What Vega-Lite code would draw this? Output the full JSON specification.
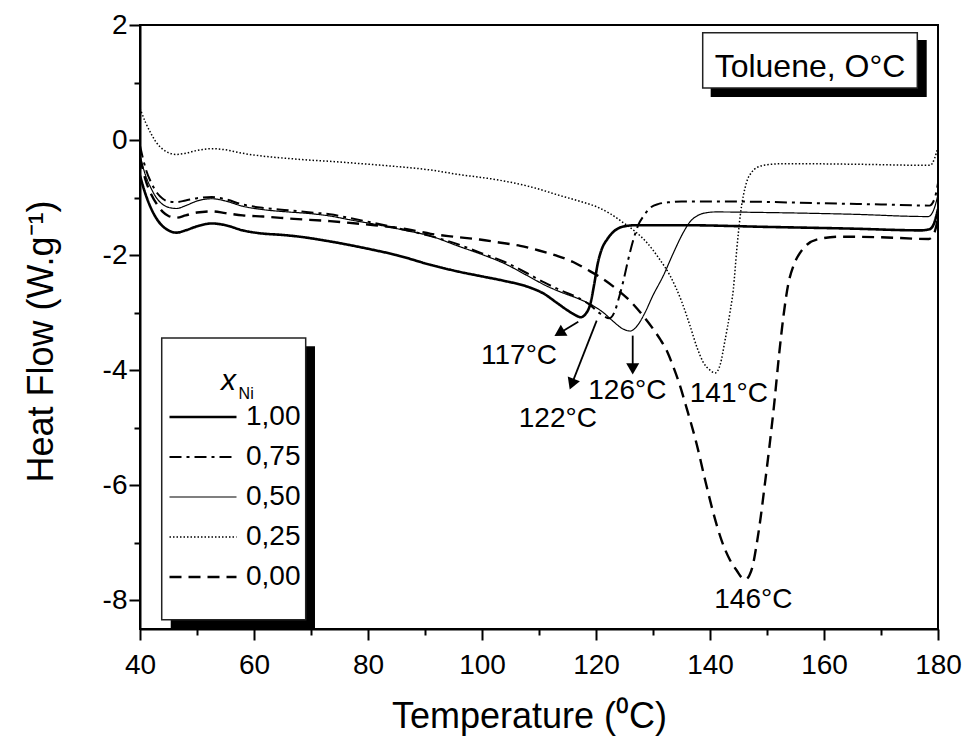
{
  "$schema": "https://vega.github.io/schema/vega-lite/v6.json",
  "width": 798,
  "height": 604,
  "autosize": {"type": "none"},
  "padding": {"left": 140, "top": 25, "right": 27, "bottom": 118},
  "background": "white",
  "config": {
    "font": "Liberation Sans",
    "view": {"stroke": "black", "strokeWidth": 2},
    "axis": {
      "domainColor": "black", "domainWidth": 2, "tickColor": "black", "tickWidth": 2,
      "labelColor": "black", "titleColor": "black", "labelFont": "Liberation Sans", "titleFont": "Liberation Sans",
      "labelFontSize": 28, "titleFontSize": 36, "titleFontWeight": "normal", "grid": false, "labelOverlap": false
    }
  },
  "datasets": {
    "curves": [
      {"xNi": "1,00", "T": 40, "HF": -0.62}, {"xNi": "1,00", "T": 41, "HF": -0.95}, {"xNi": "1,00", "T": 42, "HF": -1.2}, {"xNi": "1,00", "T": 43, "HF": -1.38}, {"xNi": "1,00", "T": 44, "HF": -1.5}, {"xNi": "1,00", "T": 45, "HF": -1.57}, {"xNi": "1,00", "T": 46.4, "HF": -1.61}, {"xNi": "1,00", "T": 48, "HF": -1.57}, {"xNi": "1,00", "T": 50, "HF": -1.5}, {"xNi": "1,00", "T": 52.6, "HF": -1.45}, {"xNi": "1,00", "T": 55, "HF": -1.48}, {"xNi": "1,00", "T": 58, "HF": -1.57}, {"xNi": "1,00", "T": 61, "HF": -1.62}, {"xNi": "1,00", "T": 65, "HF": -1.65}, {"xNi": "1,00", "T": 68, "HF": -1.68}, {"xNi": "1,00", "T": 72, "HF": -1.74}, {"xNi": "1,00", "T": 76, "HF": -1.81}, {"xNi": "1,00", "T": 80, "HF": -1.89}, {"xNi": "1,00", "T": 85, "HF": -2.0}, {"xNi": "1,00", "T": 91, "HF": -2.17}, {"xNi": "1,00", "T": 96, "HF": -2.29}, {"xNi": "1,00", "T": 100, "HF": -2.37}, {"xNi": "1,00", "T": 104, "HF": -2.45}, {"xNi": "1,00", "T": 108, "HF": -2.55}, {"xNi": "1,00", "T": 111, "HF": -2.68}, {"xNi": "1,00", "T": 113, "HF": -2.82}, {"xNi": "1,00", "T": 115, "HF": -2.96}, {"xNi": "1,00", "T": 116.5, "HF": -3.05}, {"xNi": "1,00", "T": 117.3, "HF": -3.08}, {"xNi": "1,00", "T": 118.2, "HF": -3.02}, {"xNi": "1,00", "T": 119, "HF": -2.85}, {"xNi": "1,00", "T": 119.7, "HF": -2.5}, {"xNi": "1,00", "T": 120.3, "HF": -2.15}, {"xNi": "1,00", "T": 121, "HF": -1.9}, {"xNi": "1,00", "T": 122, "HF": -1.72}, {"xNi": "1,00", "T": 123, "HF": -1.6}, {"xNi": "1,00", "T": 124, "HF": -1.53}, {"xNi": "1,00", "T": 125, "HF": -1.5}, {"xNi": "1,00", "T": 127, "HF": -1.48}, {"xNi": "1,00", "T": 135, "HF": -1.48}, {"xNi": "1,00", "T": 150, "HF": -1.51}, {"xNi": "1,00", "T": 165, "HF": -1.54}, {"xNi": "1,00", "T": 177, "HF": -1.57}, {"xNi": "1,00", "T": 178.5, "HF": -1.55}, {"xNi": "1,00", "T": 179.3, "HF": -1.45}, {"xNi": "1,00", "T": 180, "HF": -1.2},

      {"xNi": "0,75", "T": 40, "HF": -0.1}, {"xNi": "0,75", "T": 41, "HF": -0.5}, {"xNi": "0,75", "T": 42, "HF": -0.75}, {"xNi": "0,75", "T": 43, "HF": -0.92}, {"xNi": "0,75", "T": 44, "HF": -1.02}, {"xNi": "0,75", "T": 45, "HF": -1.07}, {"xNi": "0,75", "T": 46.4, "HF": -1.08}, {"xNi": "0,75", "T": 48, "HF": -1.05}, {"xNi": "0,75", "T": 50, "HF": -1.01}, {"xNi": "0,75", "T": 52.6, "HF": -0.99}, {"xNi": "0,75", "T": 55, "HF": -1.03}, {"xNi": "0,75", "T": 58, "HF": -1.12}, {"xNi": "0,75", "T": 61.6, "HF": -1.18}, {"xNi": "0,75", "T": 66, "HF": -1.22}, {"xNi": "0,75", "T": 70, "HF": -1.26}, {"xNi": "0,75", "T": 73.3, "HF": -1.29}, {"xNi": "0,75", "T": 77, "HF": -1.36}, {"xNi": "0,75", "T": 81, "HF": -1.44}, {"xNi": "0,75", "T": 86, "HF": -1.55}, {"xNi": "0,75", "T": 91, "HF": -1.67}, {"xNi": "0,75", "T": 96, "HF": -1.82}, {"xNi": "0,75", "T": 100, "HF": -1.97}, {"xNi": "0,75", "T": 104, "HF": -2.12}, {"xNi": "0,75", "T": 108, "HF": -2.32}, {"xNi": "0,75", "T": 111, "HF": -2.48}, {"xNi": "0,75", "T": 114, "HF": -2.62}, {"xNi": "0,75", "T": 117, "HF": -2.75}, {"xNi": "0,75", "T": 119, "HF": -2.87}, {"xNi": "0,75", "T": 120.5, "HF": -3.0}, {"xNi": "0,75", "T": 121.5, "HF": -3.07}, {"xNi": "0,75", "T": 122.3, "HF": -3.1}, {"xNi": "0,75", "T": 123.2, "HF": -3.0}, {"xNi": "0,75", "T": 124, "HF": -2.75}, {"xNi": "0,75", "T": 124.8, "HF": -2.45}, {"xNi": "0,75", "T": 125.6, "HF": -2.1}, {"xNi": "0,75", "T": 126.5, "HF": -1.75}, {"xNi": "0,75", "T": 127.4, "HF": -1.48}, {"xNi": "0,75", "T": 128.5, "HF": -1.3}, {"xNi": "0,75", "T": 129.5, "HF": -1.18}, {"xNi": "0,75", "T": 131, "HF": -1.11}, {"xNi": "0,75", "T": 133, "HF": -1.08}, {"xNi": "0,75", "T": 135, "HF": -1.07}, {"xNi": "0,75", "T": 145, "HF": -1.07}, {"xNi": "0,75", "T": 160, "HF": -1.1}, {"xNi": "0,75", "T": 170, "HF": -1.12}, {"xNi": "0,75", "T": 178.5, "HF": -1.14}, {"xNi": "0,75", "T": 179.4, "HF": -1.02}, {"xNi": "0,75", "T": 180, "HF": -0.75},

      {"xNi": "0,50", "T": 40, "HF": -0.28}, {"xNi": "0,50", "T": 41, "HF": -0.62}, {"xNi": "0,50", "T": 42, "HF": -0.85}, {"xNi": "0,50", "T": 43, "HF": -1.02}, {"xNi": "0,50", "T": 44, "HF": -1.12}, {"xNi": "0,50", "T": 45, "HF": -1.17}, {"xNi": "0,50", "T": 46.4, "HF": -1.19}, {"xNi": "0,50", "T": 48, "HF": -1.14}, {"xNi": "0,50", "T": 50, "HF": -1.06}, {"xNi": "0,50", "T": 52.6, "HF": -1.02}, {"xNi": "0,50", "T": 55, "HF": -1.06}, {"xNi": "0,50", "T": 58, "HF": -1.15}, {"xNi": "0,50", "T": 61.6, "HF": -1.21}, {"xNi": "0,50", "T": 66, "HF": -1.25}, {"xNi": "0,50", "T": 70, "HF": -1.28}, {"xNi": "0,50", "T": 73.3, "HF": -1.32}, {"xNi": "0,50", "T": 77, "HF": -1.39}, {"xNi": "0,50", "T": 81, "HF": -1.46}, {"xNi": "0,50", "T": 86, "HF": -1.56}, {"xNi": "0,50", "T": 91, "HF": -1.67}, {"xNi": "0,50", "T": 96, "HF": -1.85}, {"xNi": "0,50", "T": 100, "HF": -1.99}, {"xNi": "0,50", "T": 104, "HF": -2.15}, {"xNi": "0,50", "T": 108, "HF": -2.36}, {"xNi": "0,50", "T": 111.4, "HF": -2.54}, {"xNi": "0,50", "T": 114, "HF": -2.65}, {"xNi": "0,50", "T": 117.2, "HF": -2.77}, {"xNi": "0,50", "T": 119.5, "HF": -2.88}, {"xNi": "0,50", "T": 121.3, "HF": -3.0}, {"xNi": "0,50", "T": 123, "HF": -3.15}, {"xNi": "0,50", "T": 124.5, "HF": -3.27}, {"xNi": "0,50", "T": 126, "HF": -3.32}, {"xNi": "0,50", "T": 127.3, "HF": -3.22}, {"xNi": "0,50", "T": 128.5, "HF": -3.02}, {"xNi": "0,50", "T": 130, "HF": -2.7}, {"xNi": "0,50", "T": 131.8, "HF": -2.36}, {"xNi": "0,50", "T": 133.5, "HF": -1.98}, {"xNi": "0,50", "T": 135.3, "HF": -1.61}, {"xNi": "0,50", "T": 136.5, "HF": -1.42}, {"xNi": "0,50", "T": 137.7, "HF": -1.32}, {"xNi": "0,50", "T": 139, "HF": -1.27}, {"xNi": "0,50", "T": 141, "HF": -1.25}, {"xNi": "0,50", "T": 150, "HF": -1.26}, {"xNi": "0,50", "T": 165, "HF": -1.29}, {"xNi": "0,50", "T": 178.3, "HF": -1.33}, {"xNi": "0,50", "T": 179.3, "HF": -1.2}, {"xNi": "0,50", "T": 180, "HF": -0.95},

      {"xNi": "0,25", "T": 40, "HF": 0.55}, {"xNi": "0,25", "T": 41, "HF": 0.3}, {"xNi": "0,25", "T": 42, "HF": 0.1}, {"xNi": "0,25", "T": 43, "HF": -0.06}, {"xNi": "0,25", "T": 44, "HF": -0.16}, {"xNi": "0,25", "T": 45, "HF": -0.22}, {"xNi": "0,25", "T": 46.4, "HF": -0.25}, {"xNi": "0,25", "T": 48, "HF": -0.23}, {"xNi": "0,25", "T": 50, "HF": -0.18}, {"xNi": "0,25", "T": 52.8, "HF": -0.15}, {"xNi": "0,25", "T": 55, "HF": -0.17}, {"xNi": "0,25", "T": 58, "HF": -0.23}, {"xNi": "0,25", "T": 61.6, "HF": -0.28}, {"xNi": "0,25", "T": 66, "HF": -0.32}, {"xNi": "0,25", "T": 70, "HF": -0.35}, {"xNi": "0,25", "T": 73.3, "HF": -0.37}, {"xNi": "0,25", "T": 80, "HF": -0.42}, {"xNi": "0,25", "T": 85, "HF": -0.46}, {"xNi": "0,25", "T": 90.9, "HF": -0.52}, {"xNi": "0,25", "T": 96, "HF": -0.6}, {"xNi": "0,25", "T": 102.6, "HF": -0.69}, {"xNi": "0,25", "T": 108, "HF": -0.8}, {"xNi": "0,25", "T": 114.2, "HF": -0.98}, {"xNi": "0,25", "T": 117, "HF": -1.06}, {"xNi": "0,25", "T": 120.1, "HF": -1.16}, {"xNi": "0,25", "T": 122.5, "HF": -1.28}, {"xNi": "0,25", "T": 124.7, "HF": -1.43}, {"xNi": "0,25", "T": 127, "HF": -1.6}, {"xNi": "0,25", "T": 128.9, "HF": -1.78}, {"xNi": "0,25", "T": 131, "HF": -2.05}, {"xNi": "0,25", "T": 133, "HF": -2.36}, {"xNi": "0,25", "T": 135, "HF": -2.8}, {"xNi": "0,25", "T": 136.5, "HF": -3.23}, {"xNi": "0,25", "T": 137.7, "HF": -3.6}, {"xNi": "0,25", "T": 138.8, "HF": -3.86}, {"xNi": "0,25", "T": 140, "HF": -4.0}, {"xNi": "0,25", "T": 140.9, "HF": -4.05}, {"xNi": "0,25", "T": 141.8, "HF": -3.9}, {"xNi": "0,25", "T": 142.6, "HF": -3.5}, {"xNi": "0,25", "T": 143.5, "HF": -3.0}, {"xNi": "0,25", "T": 144.1, "HF": -2.59}, {"xNi": "0,25", "T": 144.7, "HF": -1.9}, {"xNi": "0,25", "T": 145.3, "HF": -1.32}, {"xNi": "0,25", "T": 146.4, "HF": -0.74}, {"xNi": "0,25", "T": 147.3, "HF": -0.56}, {"xNi": "0,25", "T": 148.2, "HF": -0.48}, {"xNi": "0,25", "T": 150, "HF": -0.43}, {"xNi": "0,25", "T": 152.9, "HF": -0.41}, {"xNi": "0,25", "T": 165, "HF": -0.42}, {"xNi": "0,25", "T": 178.6, "HF": -0.44}, {"xNi": "0,25", "T": 179.4, "HF": -0.32}, {"xNi": "0,25", "T": 180, "HF": -0.12},

      {"xNi": "0,00", "T": 40, "HF": -0.3}, {"xNi": "0,00", "T": 41, "HF": -0.7}, {"xNi": "0,00", "T": 42, "HF": -0.95}, {"xNi": "0,00", "T": 43, "HF": -1.12}, {"xNi": "0,00", "T": 44, "HF": -1.25}, {"xNi": "0,00", "T": 45, "HF": -1.32}, {"xNi": "0,00", "T": 46.4, "HF": -1.35}, {"xNi": "0,00", "T": 48, "HF": -1.31}, {"xNi": "0,00", "T": 50, "HF": -1.26}, {"xNi": "0,00", "T": 52.6, "HF": -1.24}, {"xNi": "0,00", "T": 55, "HF": -1.27}, {"xNi": "0,00", "T": 58, "HF": -1.31}, {"xNi": "0,00", "T": 61.6, "HF": -1.33}, {"xNi": "0,00", "T": 67, "HF": -1.37}, {"xNi": "0,00", "T": 73.3, "HF": -1.41}, {"xNi": "0,00", "T": 80, "HF": -1.47}, {"xNi": "0,00", "T": 86.8, "HF": -1.55}, {"xNi": "0,00", "T": 91, "HF": -1.63}, {"xNi": "0,00", "T": 95, "HF": -1.68}, {"xNi": "0,00", "T": 99.6, "HF": -1.73}, {"xNi": "0,00", "T": 103, "HF": -1.78}, {"xNi": "0,00", "T": 106.7, "HF": -1.84}, {"xNi": "0,00", "T": 110, "HF": -1.92}, {"xNi": "0,00", "T": 113.1, "HF": -2.01}, {"xNi": "0,00", "T": 116, "HF": -2.12}, {"xNi": "0,00", "T": 118.4, "HF": -2.25}, {"xNi": "0,00", "T": 121, "HF": -2.4}, {"xNi": "0,00", "T": 123.6, "HF": -2.59}, {"xNi": "0,00", "T": 126, "HF": -2.8}, {"xNi": "0,00", "T": 128.3, "HF": -3.06}, {"xNi": "0,00", "T": 130, "HF": -3.28}, {"xNi": "0,00", "T": 131.3, "HF": -3.47}, {"xNi": "0,00", "T": 132.4, "HF": -3.66}, {"xNi": "0,00", "T": 133.4, "HF": -3.9}, {"xNi": "0,00", "T": 134.5, "HF": -4.2}, {"xNi": "0,00", "T": 135.9, "HF": -4.66}, {"xNi": "0,00", "T": 137.7, "HF": -5.3}, {"xNi": "0,00", "T": 139, "HF": -5.85}, {"xNi": "0,00", "T": 140.5, "HF": -6.45}, {"xNi": "0,00", "T": 142, "HF": -6.95}, {"xNi": "0,00", "T": 143.5, "HF": -7.3}, {"xNi": "0,00", "T": 144.8, "HF": -7.5}, {"xNi": "0,00", "T": 145.5, "HF": -7.6}, {"xNi": "0,00", "T": 146.2, "HF": -7.64}, {"xNi": "0,00", "T": 146.9, "HF": -7.57}, {"xNi": "0,00", "T": 147.5, "HF": -7.4}, {"xNi": "0,00", "T": 148.1, "HF": -7.08}, {"xNi": "0,00", "T": 148.9, "HF": -6.55}, {"xNi": "0,00", "T": 149.6, "HF": -6.0}, {"xNi": "0,00", "T": 150.4, "HF": -5.35}, {"xNi": "0,00", "T": 151.3, "HF": -4.55}, {"xNi": "0,00", "T": 152.1, "HF": -3.75}, {"xNi": "0,00", "T": 152.9, "HF": -3.05}, {"xNi": "0,00", "T": 153.7, "HF": -2.52}, {"xNi": "0,00", "T": 154.7, "HF": -2.17}, {"xNi": "0,00", "T": 155.8, "HF": -1.96}, {"xNi": "0,00", "T": 157, "HF": -1.82}, {"xNi": "0,00", "T": 158.7, "HF": -1.73}, {"xNi": "0,00", "T": 162.8, "HF": -1.68}, {"xNi": "0,00", "T": 170, "HF": -1.69}, {"xNi": "0,00", "T": 178.4, "HF": -1.72}, {"xNi": "0,00", "T": 179.4, "HF": -1.6}, {"xNi": "0,00", "T": 180, "HF": -1.35}
    ],
    "arrows": [
      {"id": "117", "T": 116.89, "HF": -3.16, "T2": 113.56, "HF2": -3.357},
      {"id": "122", "T": 120.12, "HF": -3.14, "T2": 115.75, "HF2": -4.244},
      {"id": "126", "T": 126.44, "HF": -3.4, "T2": 126.44, "HF2": -3.979}
    ],
    "peaks": [
      {"T": 106.5, "HF": -3.89, "label": "117°C"},
      {"T": 113.3, "HF": -4.99, "label": "122°C"},
      {"T": 125.5, "HF": -4.5, "label": "126°C"},
      {"T": 143.3, "HF": -4.56, "label": "141°C"},
      {"T": 147.6, "HF": -8.14, "label": "146°C"}
    ]
  },
  "layer": [
    {
      "data": {"name": "curves"},
      "mark": {"type": "line", "color": "black", "interpolate": "monotone", "clip": true},
      "encoding": {
        "x": {
          "field": "T", "type": "quantitative",
          "scale": {"domain": [40, 180], "nice": false, "zero": false},
          "axis": {
            "title": "Temperature (⁰C)",
            "values": [40, 50, 60, 70, 80, 90, 100, 110, 120, 130, 140, 150, 160, 170, 180],
            "labelExpr": "datum.value % 20 == 0 ? datum.label : ''",
            "tickSize": {"condition": {"test": "datum.value % 20 == 0", "value": 11}, "value": 6},
            "labelPadding": 11, "labelFlush": false,
            "titleX": 389, "titleY": 70
          }
        },
        "y": {
          "field": "HF", "type": "quantitative",
          "scale": {"domain": [-8.5, 2], "nice": false, "zero": false},
          "axis": {
            "title": "Heat Flow (W.g⁻¹)",
            "values": [-8, -7, -6, -5, -4, -3, -2, -1, 0, 1, 2],
            "labelExpr": "datum.value % 2 == 0 ? '' + datum.value : ''",
            "tickSize": {"condition": {"test": "datum.value % 2 == 0", "value": 11}, "value": 6},
            "labelPadding": 2,
            "titleX": -80, "titleY": 316
          }
        },
        "strokeDash": {
          "field": "xNi", "type": "nominal",
          "scale": {"domain": ["1,00", "0,75", "0,50", "0,25", "0,00"], "range": [[1, 0], [12, 5, 3, 5], [1, 0], [1.5, 2], [12, 7]]},
          "legend": {
            "title": null, "orient": "none", "legendX": 28, "legendY": 372, "direction": "vertical",
            "symbolType": "stroke", "symbolSize": 4489, "clipHeight": 40, "rowPadding": 0,
            "labelOffset": 8, "labelFontSize": 28, "labelFont": "Liberation Sans", "labelColor": "black",
            "symbolStrokeColor": "black", "padding": 0, "zindex": 2
          }
        },
        "strokeWidth": {
          "field": "xNi", "type": "ordinal",
          "scale": {"type": "ordinal", "domain": ["1,00", "0,75", "0,50", "0,25", "0,00"], "range": [2.6, 2, 1.2, 1.5, 2.4]},
          "legend": {
            "title": null, "orient": "none", "legendX": 28, "legendY": 372, "direction": "vertical",
            "symbolType": "stroke", "symbolSize": 4489, "clipHeight": 40, "rowPadding": 0,
            "labelOffset": 8, "labelFontSize": 28, "labelFont": "Liberation Sans", "labelColor": "black",
            "symbolStrokeColor": "black", "padding": 0, "zindex": 2
          }
        }
      }
    },
    {
      "data": {"values": [{}]},
      "mark": {"type": "rect", "fill": "black"},
      "encoding": {
        "x": {"datum": 140.12, "type": "quantitative"}, "x2": {"datum": 178.02},
        "y": {"datum": 1.74, "type": "quantitative"}, "y2": {"datum": 0.747}
      }
    },
    {
      "data": {"values": [{}]},
      "mark": {"type": "rect", "fill": "white", "stroke": "#222", "strokeWidth": 1.5},
      "encoding": {
        "x": {"datum": 138.72, "type": "quantitative"}, "x2": {"datum": 176.37},
        "y": {"datum": 1.867, "type": "quantitative"}, "y2": {"datum": 0.903}
      }
    },
    {
      "data": {"values": [{}]},
      "mark": {"type": "text", "text": "Toluene, O°C", "fontSize": 32, "font": "Liberation Sans", "align": "center", "baseline": "alphabetic", "color": "black"},
      "encoding": {
        "x": {"datum": 157.54, "type": "quantitative"},
        "y": {"datum": 1.094, "type": "quantitative"}
      }
    },
    {
      "data": {"values": [{}]},
      "mark": {"type": "rect", "fill": "black"},
      "encoding": {
        "x": {"datum": 45.39, "type": "quantitative"}, "x2": {"datum": 70.7},
        "y": {"datum": -3.586, "type": "quantitative"}, "y2": {"datum": -8.5}
      }
    },
    {
      "data": {"values": [{}]},
      "mark": {"type": "rect", "fill": "white", "stroke": "#222", "strokeWidth": 1.5},
      "encoding": {
        "x": {"datum": 43.81, "type": "quantitative"}, "x2": {"datum": 69.07},
        "y": {"datum": -3.442, "type": "quantitative"}, "y2": {"datum": -8.341}
      }
    },
    {
      "data": {"values": [{}]},
      "mark": {"type": "text", "text": "x", "fontSize": 30, "fontStyle": "italic", "font": "Liberation Sans", "align": "left", "baseline": "alphabetic", "color": "black"},
      "encoding": {
        "x": {"datum": 54.2, "type": "quantitative"},
        "y": {"datum": -4.338, "type": "quantitative"}
      }
    },
    {
      "data": {"values": [{}]},
      "mark": {"type": "text", "text": "Ni", "fontSize": 16, "font": "Liberation Sans", "align": "left", "baseline": "alphabetic", "color": "black"},
      "encoding": {
        "x": {"datum": 57.3, "type": "quantitative"},
        "y": {"datum": -4.499, "type": "quantitative"}
      }
    },
    {
      "data": {"name": "arrows"},
      "mark": {"type": "rule", "color": "black", "strokeWidth": 1.8},
      "encoding": {
        "x": {"field": "T", "type": "quantitative"}, "x2": {"field": "T2"},
        "y": {"field": "HF", "type": "quantitative"}, "y2": {"field": "HF2"}
      }
    },
    {
      "data": {"name": "arrows"},
      "transform": [{"filter": "datum.id == '117'"}],
      "mark": {"type": "point", "shape": "triangle-up", "filled": true, "color": "black", "size": 170, "angle": 239, "opacity": 1},
      "encoding": {
        "x": {"field": "T2", "type": "quantitative"},
        "y": {"field": "HF2", "type": "quantitative"}
      }
    },
    {
      "data": {"name": "arrows"},
      "transform": [{"filter": "datum.id == '122'"}],
      "mark": {"type": "point", "shape": "triangle-up", "filled": true, "color": "black", "size": 170, "angle": 201.4, "opacity": 1},
      "encoding": {
        "x": {"field": "T2", "type": "quantitative"},
        "y": {"field": "HF2", "type": "quantitative"}
      }
    },
    {
      "data": {"name": "arrows"},
      "transform": [{"filter": "datum.id == '126'"}],
      "mark": {"type": "point", "shape": "triangle-up", "filled": true, "color": "black", "size": 170, "angle": 180, "opacity": 1},
      "encoding": {
        "x": {"field": "T2", "type": "quantitative"},
        "y": {"field": "HF2", "type": "quantitative"}
      }
    },
    {
      "data": {"name": "peaks"},
      "mark": {"type": "text", "fontSize": 28, "font": "Liberation Sans", "align": "center", "baseline": "alphabetic", "color": "black"},
      "encoding": {
        "x": {"field": "T", "type": "quantitative"},
        "y": {"field": "HF", "type": "quantitative"},
        "text": {"field": "label"}
      }
    }
  ]
}
